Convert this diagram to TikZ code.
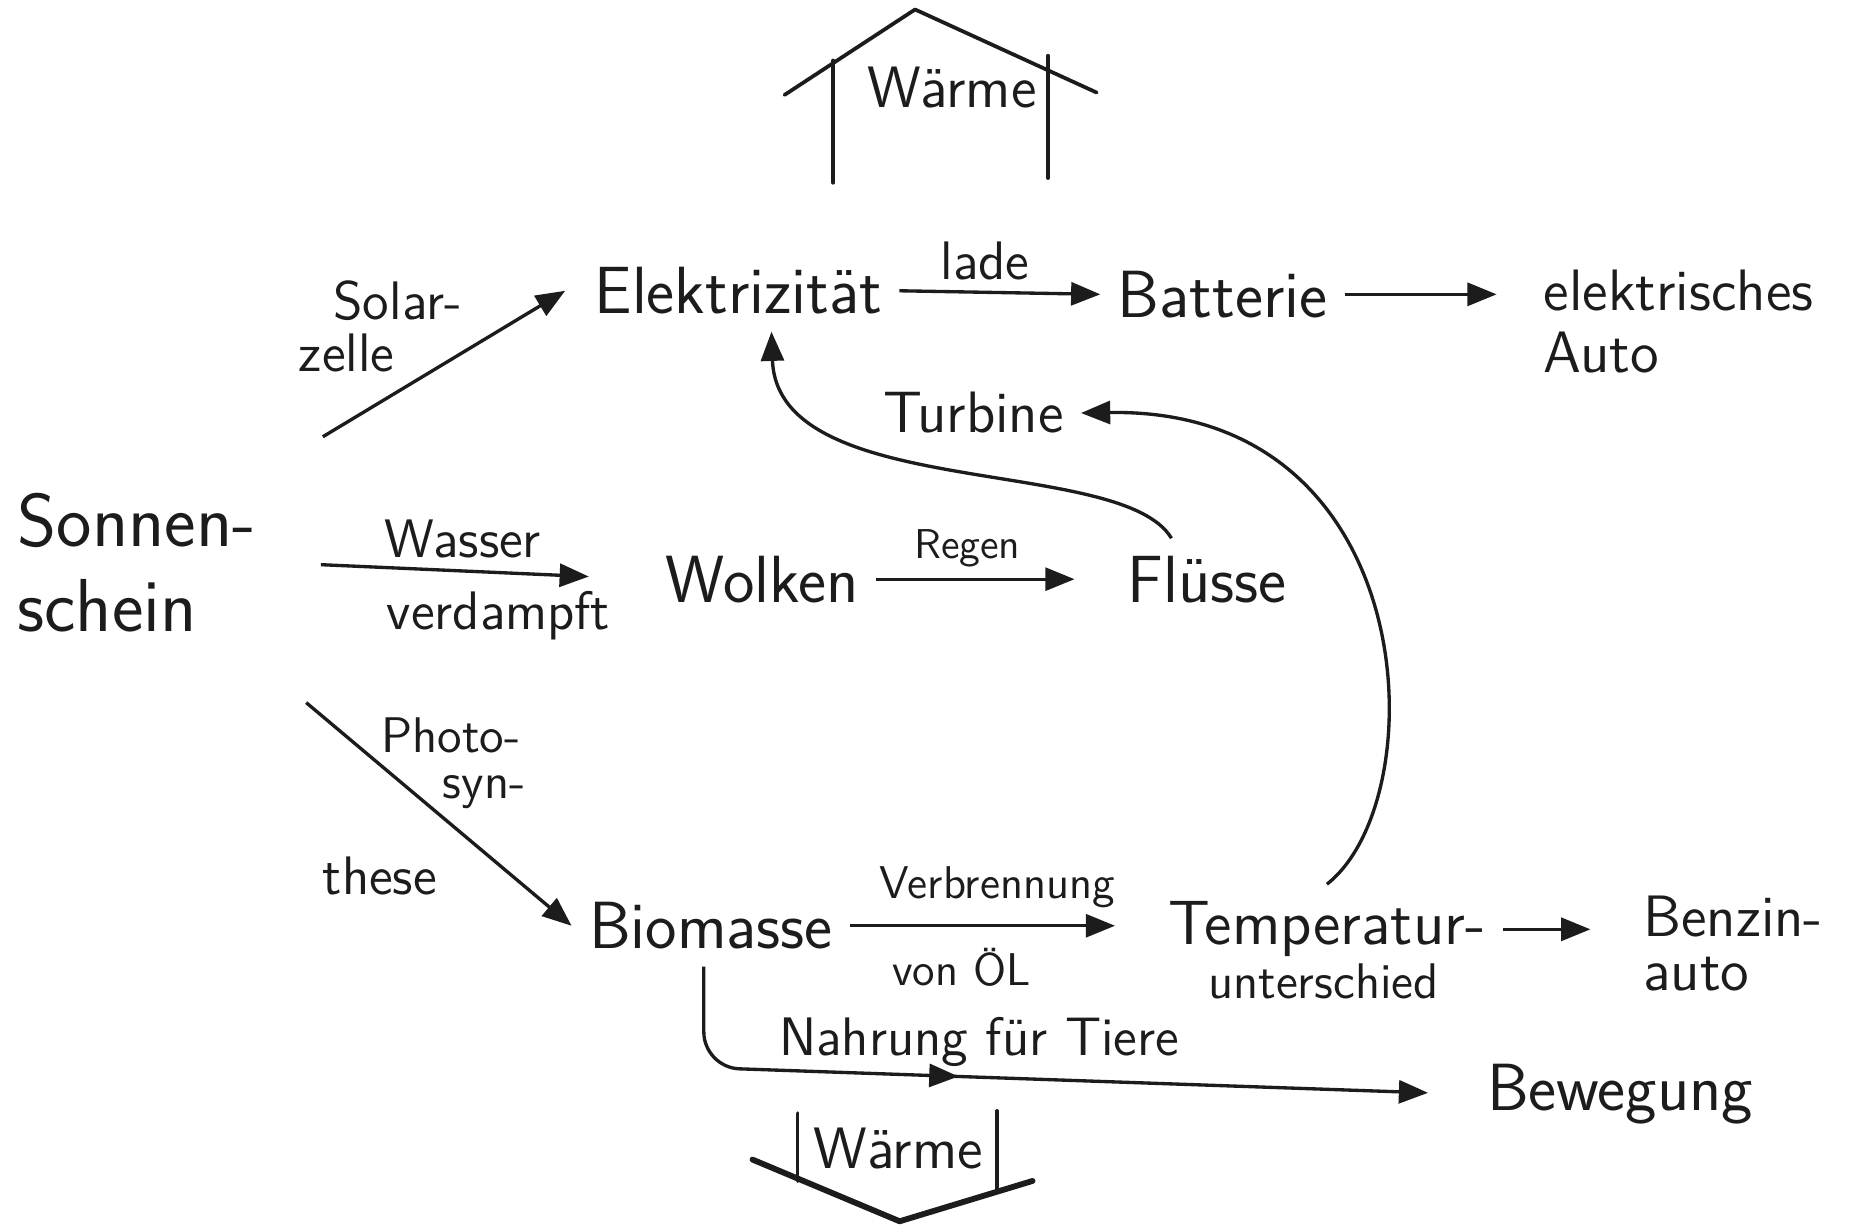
\documentclass[tikz,border=0pt]{standalone}
\usepackage{fontspec}
\usepackage{tikz}
\usetikzlibrary{arrows.meta, positioning, calc, decorations.markings}
\definecolor{pencil}{HTML}{1C1C1C}

\begin{document}
\begin{tikzpicture}[
    word/.style={font=\sffamily\fontsize{16}{18}\selectfont, pencil, inner sep=4pt},
    note/.style={font=\sffamily\fontsize{13}{14}\selectfont, pencil, inner sep=1pt},
    flow/.style={pencil, line width=0.8pt, -{Triangle[length=7pt,width=5.5pt]}},
    pen/.style={pencil, line width=0.9pt, line cap=round, line join=round}
  ]
  \useasboundingbox (0,0) rectangle (15.68,10.33);
  \fill[white] (0,0) rectangle (15.68,10.33);

  % Waerme going up (roof)
  \draw[pen] (6.61,9.53) -- (7.71,10.25) -- (9.24,9.55);
  \draw[pen] (7.02,9.82) -- (7.02,8.79);
  \draw[pen] (8.83,9.86) -- (8.83,8.83);
  \node[word, font=\sffamily\fontsize{14}{16}\selectfont] (heat1) at (8.02,9.59) {Wärme};

  % main words
  \node[word] (elek) at (6.22,7.88) {Elektrizität};
  \node[word] (batt) at (10.30,7.85) {Batterie};
  \node[word, anchor=west, align=left, font=\sffamily\fontsize{14}{15}\selectfont] (auto) at (12.86,7.62) {elektrisches\\Auto};
  \node[word, font=\sffamily\fontsize{14}{16}\selectfont] (turb) at (8.20,6.85) {Turbine};
  \node[word, anchor=west, align=left, font=\sffamily\fontsize{18}{20.5}\selectfont] (sonne) at (0.0,5.59) {Sonnen-\\schein};
  \node[word] (wolk) at (6.42,5.45) {Wolken};
  \node[word] (flus) at (10.17,5.45) {Flüsse};
  \node[word] (bio) at (5.99,2.53) {Biomasse};
  \node[word, font=\sffamily\fontsize{15}{17}\selectfont] (temp) at (11.18,2.50) {Temperatur-};
  \node[note, font=\sffamily\fontsize{12}{13}\selectfont] (temp2) at (11.15,2.06) {unterschied};
  \node[word, anchor=west, align=left, font=\sffamily\fontsize{14}{13}\selectfont] (benz) at (13.70,2.38) {Benzin-\\auto};
  \node[word] (bew) at (13.65,1.11) {Bewegung};

  % labels on the arrows
  \node[note] (solar1) at (3.35,7.80) {Solar-};
  \node[note] (solar2) at (2.92,7.36) {zelle};
  \node[note] (lade) at (8.30,8.13) {lade};
  \node[note] (wasser1) at (3.90,5.79) {Wasser};
  \node[note] (wasser2) at (4.20,5.14) {verdampft};
  \node[note, font=\sffamily\fontsize{10}{11}\selectfont] (regen) at (8.15,5.71) {Regen};
  \node[note, font=\sffamily\fontsize{12}{13}\selectfont] (photo1) at (3.80,4.13) {Photo-};
  \node[note, font=\sffamily\fontsize{12}{13}\selectfont] (photo2) at (4.08,3.66) {syn-};
  \node[note] (photo3) at (3.20,2.95) {these};
  \node[note, font=\sffamily\fontsize{11}{12}\selectfont] (verb1) at (8.40,2.85) {Verbrennung};
  \node[note, font=\sffamily\fontsize{11}{12}\selectfont] (verb2) at (8.10,2.18) {von ÖL};
  \node[note] (nahr) at (8.25,1.55) {Nahrung für Tiere};

  % arrows
  \coordinate (solar0) at (2.72,6.65);
  \coordinate (photo0) at (2.58,4.41);
  \draw[flow] (solar0) -- ([xshift=-1mm]elek.west);
  \draw[flow] (elek.east) -- (batt.west);
  \draw[flow, shorten >=2.5mm] (batt.east) -- (batt.east -| auto.west);
  \draw[flow, shorten <=4mm, shorten >=5mm] (sonne.east) -- (wolk.west);
  \draw[flow, shorten >=3mm] (wolk.east) -- (flus.west);
  \draw[flow] (photo0) -- (bio.west);
  \draw[flow, shorten >=3mm] (bio.east) -- (bio.east -| temp.west);
  \draw[flow, shorten >=3mm] (temp.east) -- (temp.east -| benz.west);
  \draw[flow] ([xshift=-3mm]flus.north) .. controls (9.45,6.5) and (6.55,6.1) .. ([xshift=2.8mm]elek.south);
  \draw[flow] (temp.north) .. controls (12.1,3.6) and (12.0,6.9) .. (turb.east);
  \draw[flow, rounded corners=3mm, shorten >=3.5mm, postaction={decorate},
    decoration={markings, mark=at position 0.4 with {\arrow{Triangle[length=7pt,width=5.5pt]}}}]
    ([xshift=-0.6mm]bio.south) -- ++(0,-0.85) -- (bew.west);

  % Waerme going down
  \draw[pen] (6.72,0.95) -- (6.72,0.38);
  \draw[pen] (8.40,0.97) -- (8.40,0.31);
  \draw[pen, line width=1.4pt] (6.34,0.56) -- (7.58,0.04) -- (8.70,0.38);
  \node[word, font=\sffamily\fontsize{14}{16}\selectfont] (heat2) at (7.57,0.65) {Wärme};
\end{tikzpicture}
\end{document}
